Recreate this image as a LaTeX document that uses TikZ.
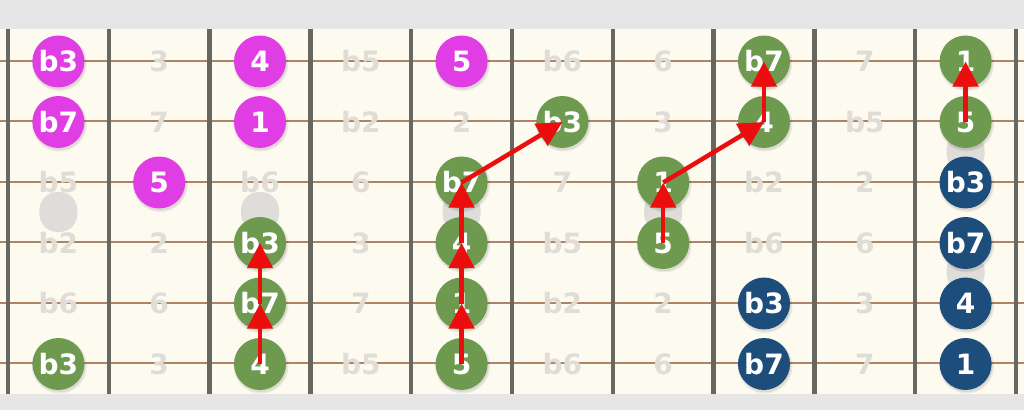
\documentclass[tikz,border=0pt]{standalone}
\usepackage{fontspec}
\newfontfamily\notefont{DejaVu Sans}
\usetikzlibrary{arrows.meta}
\definecolor{bggray}{HTML}{E6E6E6}
\definecolor{board}{HTML}{FDFAF0}
\definecolor{fretc}{HTML}{68675F}
\definecolor{stringc}{HTML}{AE8464}
\definecolor{fadec}{HTML}{E0DDD6}
\definecolor{markc}{HTML}{DEDDD9}
\definecolor{magc}{HTML}{E03EE4}
\definecolor{grnc}{HTML}{6D9A4F}
\definecolor{bluc}{HTML}{1D4D7B}
\definecolor{redc}{HTML}{EC0E0E}
\tikzset{
  notetext/.style={font=\notefont\bfseries\fontsize{28}{28}\selectfont},
  fn/.style={notetext, text=fadec, inner sep=0pt},
  dotbase/.style={notetext, circle, minimum size=52pt, inner sep=0pt, text=white,
    preaction={fill=black, draw=black, line width=3pt, opacity=0.07,
      transform canvas={shift={(1pt,-2pt)}}}},
  mn/.style={dotbase, fill=magc},
  gn/.style={dotbase, fill=grnc},
  bn/.style={dotbase, fill=bluc},
  arr/.style={draw=redc, line width=4.5pt, -{Triangle[length=25pt,width=25pt]}},
  inlay/.style={fill=markc, rounded corners=18pt}
}
\begin{document}
\begin{tikzpicture}[x=1pt,y=-1pt]
\useasboundingbox (0,0) rectangle (1024,410);
\fill[bggray] (0,0) rectangle (1024,410);
\fill[board] (0,29) rectangle (1024,394);
% inlays
\foreach \j in {1,3,5,7}
  \fill[inlay] ({8+100.8*(\j-0.5)-19},192) rectangle ++(38,40);
\fill[inlay] ({8+100.8*9.5-19},132) rectangle ++(38,40);
\fill[inlay] ({8+100.8*9.5-19},252) rectangle ++(38,40);
% strings
\foreach \k in {1,...,6}
  \draw[stringc, line width=2pt] (0,{60.5*\k}) -- (1024,{60.5*\k});
% frets
\foreach \i in {0,...,10}
  \draw[fretc, line width=4.5pt] ({8+100.8*\i},29) -- ({8+100.8*\i},394);
% notes
\foreach \row [count=\k] in {
  {b3/mn,3/fn,4/mn,b5/fn,5/mn,b6/fn,6/fn,b7/gn,7/fn,1/gn},
  {b7/mn,7/fn,1/mn,b2/fn,2/fn,b3/gn,3/fn,4/gn,b5/fn,5/gn},
  {b5/fn,5/mn,b6/fn,6/fn,b7/gn,7/fn,1/gn,b2/fn,2/fn,b3/bn},
  {b2/fn,2/fn,b3/gn,3/fn,4/gn,b5/fn,5/gn,b6/fn,6/fn,b7/bn},
  {b6/fn,6/fn,b7/gn,7/fn,1/gn,b2/fn,2/fn,b3/bn,3/fn,4/bn},
  {b3/gn,3/fn,4/gn,b5/fn,5/gn,b6/fn,6/fn,b7/bn,7/fn,1/bn}} {
  \foreach \lab/\typ [count=\j] in \row {
    \node[\typ] (n-\k-\j) at ({8+100.8*(\j-0.5)},{60.5*\k+1}) {\lab};
  }
}
% arrows
\draw[arr] (n-6-3.center) -- (n-5-3.center);
\draw[arr] (n-5-3.center) -- (n-4-3.center);
\draw[arr] (n-6-5.center) -- (n-5-5.center);
\draw[arr] (n-5-5.center) -- (n-4-5.center);
\draw[arr] (n-4-5.center) -- (n-3-5.center);
\draw[arr] (n-3-5.center) -- (n-2-6.center);
\draw[arr] (n-4-7.center) -- (n-3-7.center);
\draw[arr] (n-3-7.center) -- (n-2-8.center);
\draw[arr] (n-2-8.center) -- (n-1-8.center);
\draw[arr] (n-2-10.center) -- (n-1-10.center);
\end{tikzpicture}
\end{document}
